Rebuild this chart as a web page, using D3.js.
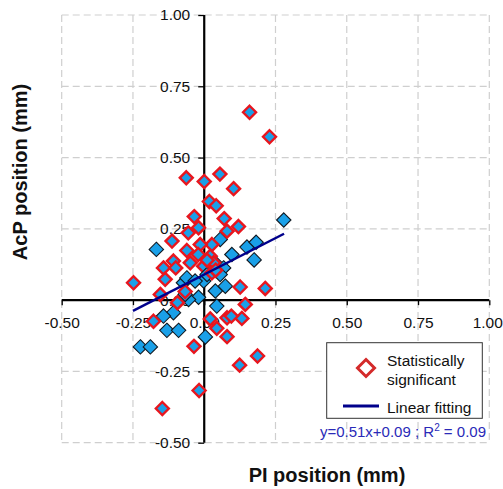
<!DOCTYPE html>
<html><head><meta charset="utf-8">
<script src="https://cdn.jsdelivr.net/npm/d3@7"></script>
<style>body{margin:0;background:#fff}svg{display:block}text{font-family:Arial,"Liberation Sans",sans-serif}</style>
</head><body><svg id="c" width="503" height="489"></svg>
<script>
const ticks = [-0.5, -0.25, 0, 0.25, 0.5, 0.75, 1.0];
const tickLabels = ["-0.50", "-0.25", "0.00", "0.25", "0.50", "0.75", "1.00"];
const xTitle = "PI position (mm)";
const yTitle = "AcP position (mm)";
// non-significant points
const nsX = [0.279,-0.168,0.056,0.097,0.150,0.182,0.175,0.044,0.068,0.056,0.074,0.039,-0.073,-0.061,-0.020,-0.055,0.044,-0.108,-0.143,-0.131,-0.090,0.004,-0.224,-0.189,-0.002,-0.032,0.010,-0.067];
const nsY = [0.281,0.178,0.213,0.160,0.186,0.203,0.141,0.125,0.113,0.090,0.049,0.032,0.061,0.078,0.010,0.002,-0.021,-0.044,-0.056,-0.106,-0.106,-0.129,-0.164,-0.164,0.067,0.067,0.090,0.020];
// statistically significant points
const sigX = [0.159,0.229,-0.063,0.000,0.055,0.103,0.018,0.042,-0.035,-0.020,0.070,0.120,0.080,-0.056,-0.113,0.027,-0.014,-0.061,-0.021,0.021,-0.108,-0.143,-0.100,-0.049,-0.002,0.033,0.027,-0.137,-0.248,0.126,0.214,-0.154,-0.067,-0.094,0.144,-0.178,0.021,0.080,0.132,0.095,0.044,0.080,-0.036,0.187,0.124,-0.018,-0.147,0.010,0.040];
const sigY = [0.659,0.573,0.429,0.416,0.442,0.391,0.346,0.331,0.293,0.254,0.286,0.258,0.242,0.236,0.207,0.195,0.195,0.174,0.160,0.154,0.137,0.113,0.113,0.131,0.119,0.131,0.096,0.073,0.061,0.046,0.041,0.020,0.030,-0.009,-0.015,-0.074,-0.066,-0.062,-0.064,-0.056,-0.099,-0.128,-0.162,-0.196,-0.228,-0.317,-0.380,0.140,0.105];
const fitSlope = 0.51, fitIntercept = 0.09, fitRange = [-0.25, 0.28];
const legendLabels = ["Statistically", "significant", "Linear fitting"];
const eqText = "y=0.51x+0.09 ; R";

const svg = d3.select("#c");
const x = d3.scaleLinear().domain([-0.5, 1.0]).range([61.7, 489.3]);
const y = d3.scaleLinear().domain([-0.5, 1.0]).range([442.7, 15]);

// grid
const g = svg.append("g");
g.selectAll("line.v").data(ticks).enter().append("line")
  .attr("x1", d => x(d)).attr("x2", d => x(d)).attr("y1", y(1)).attr("y2", y(-0.5))
  .attr("stroke", "#cfcfcf").attr("stroke-width", 1.2).attr("stroke-dasharray", "7,4");
g.selectAll("line.h").data(ticks).enter().append("line")
  .attr("y1", d => y(d)).attr("y2", d => y(d)).attr("x1", x(-0.5)).attr("x2", x(1))
  .attr("stroke", "#cfcfcf").attr("stroke-width", 1.2).attr("stroke-dasharray", "7,4");

// axes through origin
const xAxis = d3.axisBottom(x).tickValues(ticks).tickFormat((d, i) => tickLabels[i]).tickSize(5).tickPadding(12);
const yAxis = d3.axisLeft(y).tickValues(ticks).tickFormat((d, i) => tickLabels[i]).tickSize(6).tickPadding(8);
const ax = svg.append("g").attr("transform", `translate(0,${y(0)})`).call(xAxis);
const ay = svg.append("g").attr("transform", `translate(${x(0)},0)`).call(yAxis);
[ax, ay].forEach(a => {
  a.select(".domain").attr("stroke", "#000").attr("stroke-width", 2.2);
  a.selectAll(".tick line").attr("stroke", "#000").attr("stroke-width", 1.3);
  a.selectAll(".tick text").attr("font-size", 15.5).attr("fill", "#111")
    .attr("font-family", "Arial, 'Liberation Sans', sans-serif");
});
ax.selectAll(".tick text").filter(d => d === 1.0).attr("text-anchor", "end").attr("x", 13);
ax.select(".domain").attr("d", `M${x(-0.5)},0H${x(1)}`);
ay.select(".domain").attr("d", `M0,${y(1)}V${y(-0.5)}`);

// markers
const diamond = (r) => `M0,${-r}L${r},0L0,${r}L${-r},0Z`;
const ptsG = svg.append("g");
const ns = nsX.map((v, i) => ({x: v, y: nsY[i], s: false}));
const sig = sigX.map((v, i) => ({x: v, y: sigY[i], s: true}));
const all = [];
const n = Math.max(ns.length, sig.length);
for (let i = 0; i < n; i++) { if (i < ns.length) all.push(ns[i]); if (i < sig.length) all.push(sig[i]); }
ptsG.selectAll("path").data(all).enter().append("path")
  .attr("d", d => diamond(d.s ? 6.5 : 7.2))
  .attr("transform", d => `translate(${x(d.x)},${y(d.y)})`)
  .attr("fill", "#1aa0e8")
  .attr("stroke", d => d.s ? "#e8161e" : "#101820")
  .attr("stroke-width", d => d.s ? 2.4 : 1.1)
  .attr("stroke-linejoin", "miter");

// fit line
svg.append("line")
  .attr("x1", x(fitRange[0])).attr("y1", y(fitSlope * fitRange[0] + fitIntercept))
  .attr("x2", x(fitRange[1])).attr("y2", y(fitSlope * fitRange[1] + fitIntercept))
  .attr("stroke", "#00008b").attr("stroke-width", 2.5);

// titles
svg.append("text").attr("x", 327).attr("y", 482).attr("text-anchor", "middle")
  .attr("font-size", 20).attr("font-weight", "bold").attr("fill", "#111").text(xTitle);
svg.append("text").attr("transform", "translate(27,172) rotate(-90)").attr("text-anchor", "middle")
  .attr("font-size", 20).attr("font-weight", "bold").attr("fill", "#111").text(yTitle);

// legend
const lg = svg.append("g");
lg.append("rect").attr("x", 326.7).attr("y", 342.7).attr("width", 155.6).attr("height", 75.6)
  .attr("fill", "#fff").attr("stroke", "#333").attr("stroke-width", 1);
lg.append("path").attr("d", diamond(8.5)).attr("transform", "translate(366,368)")
  .attr("fill", "#fff").attr("stroke", "#d42a2a").attr("stroke-width", 3);
lg.append("text").attr("x", 387).attr("y", 366).attr("font-size", 15.5).attr("fill", "#111").text(legendLabels[0]);
lg.append("text").attr("x", 387).attr("y", 385).attr("font-size", 15.5).attr("fill", "#111").text(legendLabels[1]);
lg.append("line").attr("x1", 343).attr("x2", 379).attr("y1", 406).attr("y2", 406)
  .attr("stroke", "#00008b").attr("stroke-width", 3);
lg.append("text").attr("x", 387).attr("y", 413).attr("font-size", 15.5).attr("fill", "#111").text(legendLabels[2]);

const eq = svg.append("text").attr("x", 486).attr("y", 437).attr("text-anchor", "end")
  .attr("font-size", 15).attr("fill", "#2a2ab8");
eq.append("tspan").text(eqText);
eq.append("tspan").attr("dy", -6).attr("font-size", 10).text("2");
eq.append("tspan").attr("dy", 6).text(" = 0.09");
</script></body></html>
